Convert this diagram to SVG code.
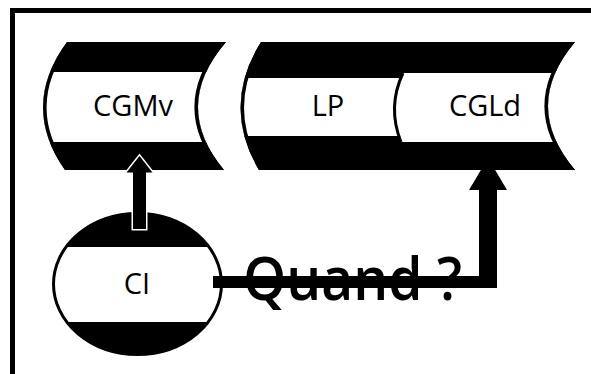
<svg xmlns="http://www.w3.org/2000/svg" width="591" height="374" viewBox="0 0 591 374">
<style>
.lbl{font-family:"Open Sans","Noto Sans","Liberation Sans",sans-serif;font-size:29px;fill:#000;text-anchor:middle}
.big{font-family:"Open Sans","Noto Sans","Liberation Sans",sans-serif;font-size:60px;font-weight:600;fill:#000}
.edge{fill:none;stroke:#000;stroke-width:7}
.band{fill:#fff}
</style>
<defs>
<clipPath id="c1"><path d="M67,42 L226,42 Q171,106 224,170 L65,170 Q20,106 67,42 Z"/></clipPath>
<clipPath id="c2"><path d="M261,42 L575,42 Q521,106 575,170 L259,170 Q221,106 261,42 Z"/></clipPath>
<clipPath id="c3"><ellipse cx="137.5" cy="284" rx="84" ry="70.5"/></clipPath>
</defs>
<rect width="591" height="374" fill="#fff"/>
<path d="M12.5,374 V10.5 H591" fill="none" stroke="#000" stroke-width="5"/>

<g id="CGMv">
<path d="M67,42 L226,42 Q171,106 224,170 L65,170 Q20,106 67,42 Z" fill="#000"/>
<g clip-path="url(#c1)">
<rect class="band" x="20" y="72" width="220" height="70"/>
<path class="edge" d="M67,42 L226,42 Q171,106 224,170 L65,170 Q20,106 67,42 Z"/>
</g>
<text class="lbl" x="133" y="116">CGMv</text>
</g>

<g id="LP_CGLd">
<path d="M261,42 L575,42 Q521,106 575,170 L259,170 Q221,106 261,42 Z" fill="#000"/>
<g clip-path="url(#c2)">
<rect class="band" x="220" y="78" width="180" height="58"/>
<path class="band" d="M403,73 L580,73 L580,142 L401,142 Q387,107 403,73 Z"/>
<path d="M403,73 Q387,107 401,142" fill="none" stroke="#000" stroke-width="3"/>
<path class="edge" d="M261,42 L575,42 Q521,106 575,170 L259,170 Q221,106 261,42 Z"/>
</g>
<text class="lbl" x="328" y="116">LP</text>
<text class="lbl" x="485" y="116">CGLd</text>
</g>

<g id="CI">
<ellipse cx="137.5" cy="284" rx="84" ry="70.5" fill="#000"/>
<g clip-path="url(#c3)">
<rect class="band" x="50" y="247" width="180" height="75"/>
</g>
<ellipse cx="137.5" cy="284" rx="84" ry="70.5" fill="none" stroke="#000" stroke-width="3"/>
<text class="lbl" x="137" y="294">CI</text>
</g>

<g id="connectors">
<rect x="133" y="170" width="13" height="59" fill="#000" stroke="#fff" stroke-width="3" paint-order="stroke"/>
<polygon points="139.5,156 126.5,172.5 152.5,172.5" fill="#000" stroke="#fff" stroke-width="3" paint-order="stroke"/>
<rect x="133" y="168" width="13" height="10" fill="#000"/>
<rect x="213" y="276" width="284" height="12" fill="#000"/>
<rect x="479" y="188" width="18" height="100" fill="#000"/>
<polygon points="488,158 469,190 507,190" fill="#000"/>
</g>

<text class="big" x="243" y="300" textLength="219" lengthAdjust="spacingAndGlyphs">Quand ?</text>
</svg>
